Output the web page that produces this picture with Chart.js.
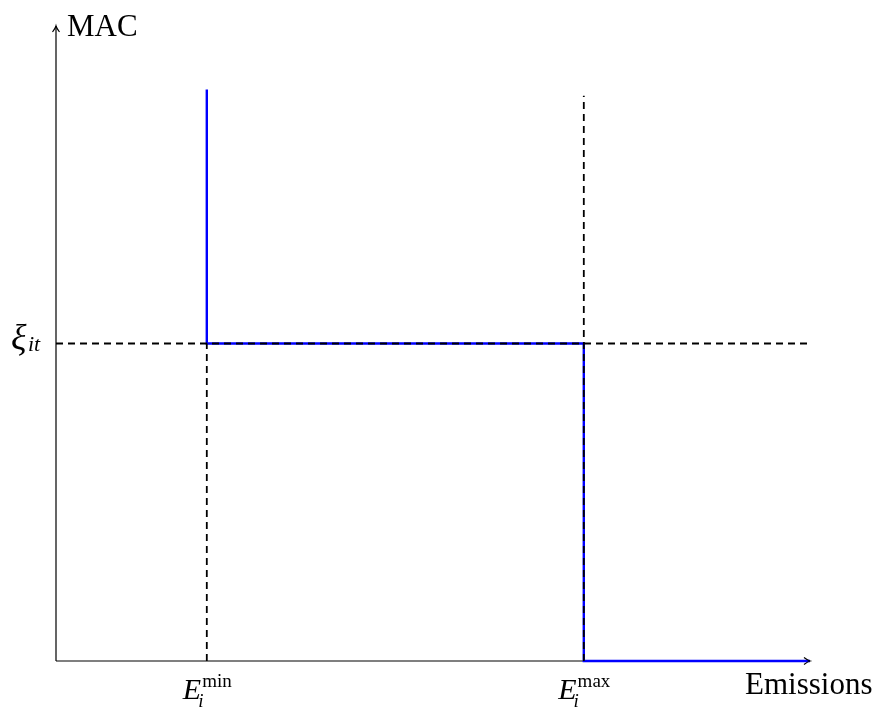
<!DOCTYPE html>
<html>
<head>
<meta charset="utf-8">
<script src="https://cdn.jsdelivr.net/npm/chart.js@4.4.1/dist/chart.umd.min.js"></script>
<style>
  body { margin: 0; background: #fff; }
</style>
</head>
<body>
<canvas id="macChart" width="880" height="708"></canvas>
<script>
// values in axis units (axis runs 0..10 on both sides)
const eMin = 2;
const eMax = 7;
const xiLevel = 5;
const axisMax = 10;

const macX = [eMin, eMin, eMax, eMax, axisMax];
const macY = [9, xiLevel, xiLevel, 0, 0];

const xiLineX = [0, axisMax];
const xiLineY = [xiLevel, xiLevel];
const minLineX = [eMin, eMin];
const minLineY = [0, xiLevel];
const maxLineX = [eMax, eMax];
const maxLineY = [0, 8.9];

const toPoints = (xs, ys) => xs.map((x, i) => ({ x: x, y: ys[i] }));

const serif = '"Liberation Serif", "DejaVu Serif", serif';

function dashed(xs, ys) {
    return {
        data: toPoints(xs, ys),
        borderColor: "#000",
        borderWidth: 1.8,
        borderDash: [7, 5],
        pointRadius: 0,
        showLine: true,
        clip: false
    };
}

// draws "Main_sub^sup" centred on cx
function mathLabel(ctx, cx, baseline, main, sub, sup, size) {
    const small = 19;
    ctx.font = "italic " + size + "px " + serif;
    const wMain = ctx.measureText(main).width;
    ctx.font = small + "px " + serif;
    const wSup = ctx.measureText(sup).width;
    let x = cx - (wMain + wSup) / 2;
    ctx.textAlign = "left";
    ctx.textBaseline = "alphabetic";
    ctx.font = "italic " + size + "px " + serif;
    ctx.fillText(main, x, baseline);
    x += wMain;
    ctx.font = "italic " + small + "px " + serif;
    ctx.fillText(sub, x - 3, baseline + 8);
    ctx.font = small + "px " + serif;
    ctx.fillText(sup, x + 1, baseline - 12);
}

const axesPlugin = {
    id: "axes",
    beforeDatasetsDraw(chart) {
        const ctx = chart.ctx;
        const xs = chart.scales.x, ys = chart.scales.y;
        const x0 = xs.getPixelForValue(0), y0 = ys.getPixelForValue(0);
        const xEnd = xs.getPixelForValue(axisMax), yEnd = ys.getPixelForValue(axisMax);
        ctx.save();
        ctx.strokeStyle = "#000";
        ctx.lineWidth = 1.2;
        ctx.beginPath();
        ctx.moveTo(x0, y0);
        ctx.lineTo(xEnd, y0);
        ctx.moveTo(x0, y0);
        ctx.lineTo(x0, yEnd);
        ctx.stroke();
        ctx.restore();
    },
    afterDraw(chart) {
        const ctx = chart.ctx;
        const xs = chart.scales.x, ys = chart.scales.y;
        const x0 = xs.getPixelForValue(0), y0 = ys.getPixelForValue(0);
        const xEnd = xs.getPixelForValue(axisMax), yEnd = ys.getPixelForValue(axisMax);
        ctx.save();
        ctx.strokeStyle = "#000";
        ctx.lineWidth = 1.2;
        // arrow heads
        ctx.beginPath();
        ctx.moveTo(xEnd - 6, y0 - 3.5);
        ctx.quadraticCurveTo(xEnd - 2, y0 - 0.5, xEnd, y0);
        ctx.quadraticCurveTo(xEnd - 2, y0 + 0.5, xEnd - 6, y0 + 3.5);
        ctx.moveTo(x0 - 3.5, yEnd + 6);
        ctx.quadraticCurveTo(x0 - 0.5, yEnd + 2, x0, yEnd);
        ctx.quadraticCurveTo(x0 + 0.5, yEnd + 2, x0 + 3.5, yEnd + 6);
        ctx.stroke();

        ctx.fillStyle = "#000";
        ctx.textBaseline = "alphabetic";
        ctx.textAlign = "left";
        ctx.font = "31px " + serif;
        ctx.fillText("MAC", 67, 36);
        ctx.fillText("Emissions", 745, 694);

        ctx.font = "italic 36px " + serif;
        ctx.fillText("\u03be", 11, 349);
        ctx.font = "italic 22px " + serif;
        ctx.fillText("it", 28, 351);

        mathLabel(ctx, xs.getPixelForValue(eMin), 699, "E", "i", "min", 30);
        mathLabel(ctx, xs.getPixelForValue(eMax), 699, "E", "i", "max", 30);
        ctx.restore();
    }
};

new Chart(document.getElementById("macChart"), {
    type: "scatter",
    data: {
        datasets: [
            dashed(xiLineX, xiLineY),
            dashed(minLineX, minLineY),
            dashed(maxLineX, maxLineY),
            {
                data: toPoints(macX, macY),
                borderColor: "#0000ff",
                borderWidth: 2.4,
                pointRadius: 0,
                showLine: true,
                clip: false
            }
        ]
    },
    options: {
        responsive: false,
        animation: false,
        layout: { padding: { left: 56, top: 26, right: 70, bottom: 47 } },
        scales: {
            x: { type: "linear", min: 0, max: axisMax, display: false },
            y: { type: "linear", min: 0, max: axisMax, display: false }
        },
        plugins: {
            legend: { display: false },
            tooltip: { enabled: false }
        }
    },
    plugins: [axesPlugin]
});
</script>
</body>
</html>
